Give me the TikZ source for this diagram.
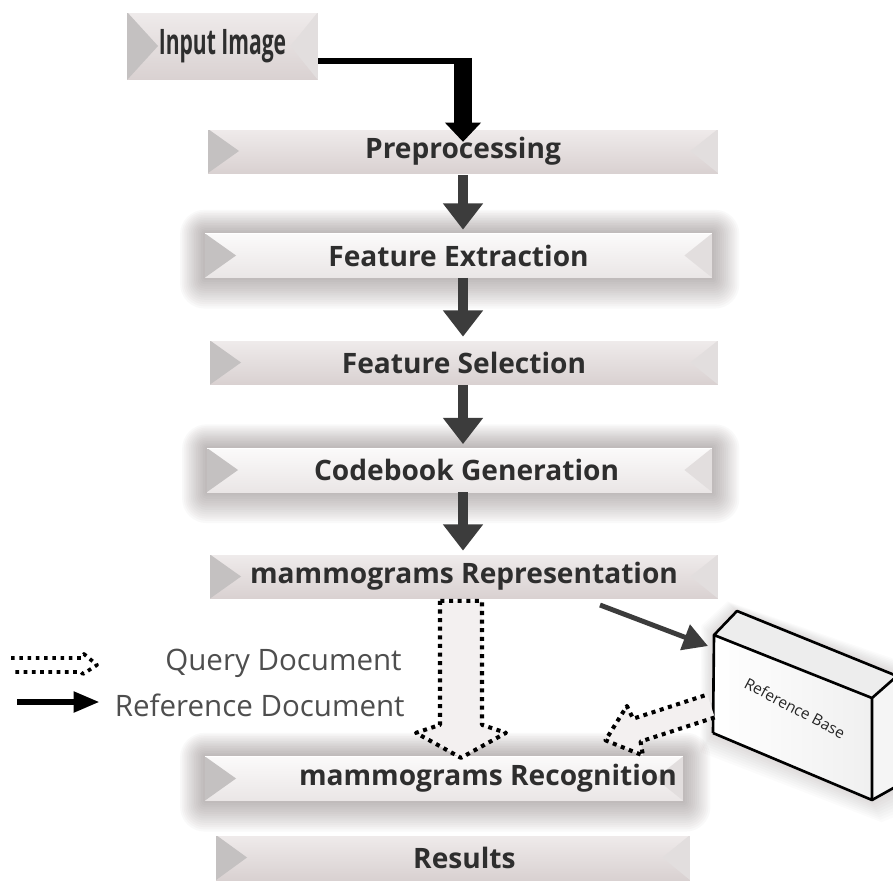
\documentclass[tikz,border=0pt]{standalone}
\usepackage{fontspec}
\usepackage{graphicx}
\setmainfont{Open Sans}
\usetikzlibrary{arrows.meta,backgrounds}
\definecolor{boxtop}{HTML}{EFEBEB}
\definecolor{boxbot}{HTML}{D9D1D1}
\definecolor{gboxtop}{HTML}{FBFAFA}
\definecolor{gboxbot}{HTML}{EAE6E6}
\definecolor{bevL}{HTML}{C4C1C1}
\definecolor{bevR}{HTML}{E2DEDE}
\definecolor{arrgray}{HTML}{3C3C3C}
\definecolor{legtxt}{HTML}{4E4E4E}
\definecolor{glowc}{HTML}{6E6262}
\definecolor{qfill}{HTML}{F3F0F0}
\tikzset{
  stagebox/.style={minimum height=0.88cm, inner sep=0pt, top color=boxtop, bottom color=boxbot,
    font=\bfseries\fontsize{16}{18}\selectfont, text=black!82,
    path picture={
      \fill[bevL] (path picture bounding box.north west) -- ([xshift=0.62cm]path picture bounding box.west) -- (path picture bounding box.south west) -- cycle;
      \fill[bevR] (path picture bounding box.north east) -- ([xshift=-0.55cm]path picture bounding box.east) -- (path picture bounding box.south east) -- cycle;
      \draw[white, line width=0.8pt] (path picture bounding box.north west) -- (path picture bounding box.north east);
    }},
  glowstage/.style={stagebox, top color=gboxtop, bottom color=gboxbot},
  steparrow/.style={draw=arrgray, line width=5.5pt, -{Triangle[width=22pt,length=15pt]}},
  querydots/.style={draw=black, line width=2.3pt, dash pattern=on 2.3pt off 2.6pt, fill=qfill, line join=round},
  legtext/.style={font=\fontsize{16.8}{19}\selectfont, text=legtxt, inner sep=0pt}
}
\newcommand\stageglow[1]{%
  \begin{pgfonlayer}{background}
    \foreach \g in {1,...,14}{
      \fill[glowc, opacity=0.036, rounded corners=\g pt]
        ([shift={(-\g*1.0pt,\g*0.95pt)}]#1.north west) rectangle ([shift={(\g*1.1pt,-\g*1.25pt)}]#1.south east);
    }
  \end{pgfonlayer}}
\begin{document}
\begin{tikzpicture}[x=0.02cm,y=-0.02cm]
\begin{pgfonlayer}{background}
  \fill[white] (0,0) rectangle (893,880);
\end{pgfonlayer}
\useasboundingbox (0,0) rectangle (893,880);

% stage boxes
\node[stagebox, minimum width=3.82cm, minimum height=1.36cm,
      font=\bfseries\fontsize{20}{22}\selectfont] (inp) at (222.5,46) {\scalebox{0.6}[1]{Input Image}};
\node[stagebox, minimum width=10.2cm] (pre) at (463,151) {Preprocessing};
\node[glowstage, minimum width=10.14cm] (fe) at (458.5,255.5) {Feature Extraction};
\node[stagebox, minimum width=10.16cm] (fs) at (464,362.5) {Feature Selection};
\node[glowstage, minimum width=10.1cm] (cg) at (459.5,470) {\hspace*{8pt}Codebook Generation};
\node[stagebox, minimum width=10.16cm] (mr) at (464,576.5) {mammograms Representation};
\node[glowstage, minimum width=9.56cm] (rec) at (444,778.5) {\hspace*{50pt}mammograms Recognition};
\node[stagebox, minimum width=9.48cm, minimum height=0.9cm] (res) at (453,857.5) {\hspace*{13pt}Results};
\stageglow{fe}
\stageglow{cg}
\stageglow{rec}

% input -> preprocessing
\coordinate (ia) at ([yshift=-8.5pt]inp.east);
\coordinate (ik) at (ia -| pre.north);
\draw[line width=3.4pt] (ia) -- ([xshift=5pt]ik);
\draw[line width=10pt, -{Triangle[width=20pt,length=11pt]}] ([yshift=1.7pt]ik) -- ([yshift=-7.5pt]pre.north);

% step arrows
\draw[steparrow] ([yshift=-1pt]pre.south) -- ([yshift=2pt]pre.south |- fe.north);
\draw[steparrow] (pre.south |- fe.south) -- ([yshift=2pt]pre.south |- fs.north);
\draw[steparrow] (pre.south |- fs.south) -- ([yshift=2pt]pre.south |- cg.north);
\draw[steparrow] (pre.south |- cg.south) -- ([yshift=2pt]pre.south |- mr.north);

% reference base box
\coordinate (rbA) at (714,635);
\coordinate (rbB) at (872,698);
\coordinate (rbC) at (872,800);
\coordinate (rbD) at (713,733);
\coordinate (rbE) at (737,611);
\coordinate (rbF) at (897,676);
\coordinate (rbG) at (897,786);
\begin{pgfonlayer}{background}
  \foreach \g in {1,...,9}{
    \fill[glowc, opacity=0.025, line join=round]
      ([shift={(-\g*0.6pt,\g*0.6pt)}]rbE) -- ([shift={(\g*1.2pt,\g*0.6pt)}]rbF) -- ([shift={(\g*1.2pt,-\g*1.4pt)}]rbG)
      -- ([shift={(\g*0.6pt,-\g*1.4pt)}]rbC) -- ([shift={(-\g*0.8pt,-\g*1.2pt)}]rbD) -- ([shift={(-\g*0.8pt,\g*0.6pt)}]rbA) -- cycle;
  }
\end{pgfonlayer}
\fill[gray!14] (rbA) -- (rbE) -- (rbF) -- (rbB) -- cycle;
\shade[left color=white, right color=gray!12] (rbA) -- (rbB) -- (rbC) -- (rbD) -- cycle;
\fill[gray!8] (rbB) -- (rbF) -- (rbG) -- (rbC) -- cycle;
\draw[line width=1.5pt, line join=round] (rbD) -- (rbA) -- (rbE) -- (rbF) -- (rbB) -- (rbA);
\draw[line width=1.5pt, line join=round] (rbB) -- (rbC) -- (rbD);
\draw[line width=1.5pt, line join=round] (rbC) -- (rbG);
\node[rotate=-28, font=\fontsize{8.8}{10}\selectfont, text=black!85, inner sep=0pt] (rbt) at (795,708) {Reference Base};

% reference arrow (solid) from representation to reference base
\coordinate (rs) at (600,605);
\coordinate (rt) at (708,646);
\draw[draw=arrgray, line width=2.8pt, -{Triangle[width=15pt,length=14pt]}] (rs) -- (rt);

% query arrow (dotted hollow) representation -> recognition
\begin{scope}[shift={(mr.south)}]
  \draw[querydots] (-24,2) -- (-24,126) -- (-48,134) -- (-3,159) -- (42,134) -- (18,126) -- (18,2) -- cycle;
\end{scope}

% dotted hollow arrow reference base -> recognition
\coordinate (rq) at (711,706);
\begin{scope}[shift={(rq)}, rotate=198]
  \draw[querydots] (0,-12) -- (78,-12) -- (80,-26) -- (111,0) -- (80,26) -- (78,12) -- (0,12);
\end{scope}

% legend
\coordinate (lq) at (11,665);
\begin{scope}[shift={(lq)}]
  \draw[draw=black, line width=2.1pt, dash pattern=on 2.1pt off 2.6pt, line join=round]
    (0,-7) -- (70,-7) -- (73,-11) -- (86,0) -- (72,9) -- (70,7) -- (0,7);
\end{scope}
\node[legtext, anchor=east] (qd) at (402,663) {Query Document};
\coordinate (la) at (17,702);
\coordinate (lb) at (100,702);
\draw[line width=3.8pt, -{Triangle[width=11pt,length=15pt]}] (la) -- (lb);
\node[legtext, anchor=east] (rd) at (405,705) {Reference Document};
\end{tikzpicture}
\end{document}
